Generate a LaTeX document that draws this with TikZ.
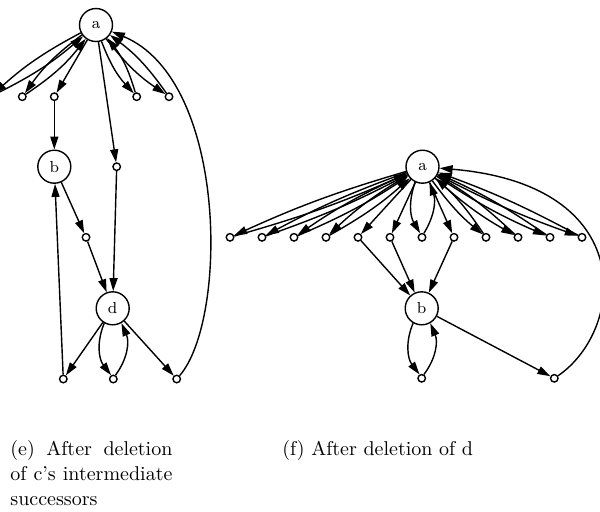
\documentclass[tikz,border=0pt]{standalone}
\usetikzlibrary{arrows.meta,positioning}

\begin{document}
\begin{tikzpicture}[x=0.5pt,y=0.5pt,
    vertex/.style={draw,circle,line width=0.7pt,minimum size=16.5pt,inner sep=0pt,font=\footnotesize},
    dot/.style={draw,circle,line width=0.7pt,minimum size=3.75pt,inner sep=0pt},
    edge/.style={line width=0.7pt,-{Triangle[length=6.5pt,width=4pt]}},
    caption/.style={anchor=base west,inner sep=0pt,font=\fontsize{10}{12.5}\selectfont}]
    \useasboundingbox (0,0) rectangle (600,-511);

    % (e) graph
    \node[vertex] (ea) at (96,-25) {a};
    \node[vertex] (eb) at (54.3,-166.7) {b};
    \node[vertex] (ed) at (112.7,-308.3) {d};

    % upper intermediate nodes
    \node[dot] (eu1) at (-9.7,-96.7) {};
    \node[dot] (eu2) at (22.3,-96.7) {};
    \node[dot] (eu3) at (54.3,-96.7) {};
    \node[dot] (eu4) at (136.7,-96.7) {};
    \node[dot] (eu5) at (169,-96.7) {};
    \node[dot] (em1) at (116.7,-166.7) {};
    \node[dot] (em2) at (86,-237.3) {};

    % lower intermediate nodes
    \node[dot] (el1) at (63.3,-379) {};
    \node[dot] (el2) at (113.3,-379) {};
    \node[dot] (el3) at (176.7,-379) {};

    \foreach \n/\b in {eu1/7,eu2/9,eu4/11,eu5/9} {
        \draw[edge] (ea) to[bend right=\b] (\n);
        \draw[edge] (\n) to[bend right=\b] (ea);
    }
    \draw[edge] (ea) -- (eu3);
    \draw[edge] (eu3) -- (eb);
    \draw[edge] (ea) -- (em1);
    \draw[edge] (em1) -- (ed);
    \draw[edge] (eb) -- (em2);
    \draw[edge] (em2) -- (ed);
    \draw[edge] (ed) -- (el1);
    \draw[edge] (el1) -- (eb);
    \draw[edge] (ed) to[bend right=30] (el2);
    \draw[edge] (el2) to[bend right=30] (ed);
    \draw[edge] (ed) -- (el3);
    \draw[edge] (el3) .. controls (228,-320) and (228,-80) .. (ea);

    % (f) graph
    \node[vertex] (fa) at (422.5,-166.7) {a};
    \node[vertex] (fb) at (421.7,-308.3) {b};
    \foreach \i in {0,...,11}
        \node[dot] (fu\i) at ({230+32*\i},-237.3) {};
    \node[dot] (fl1) at (421.7,-378.3) {};
    \node[dot] (fl2) at (554.3,-378.3) {};

    \foreach \i/\b in {0/4,1/4,2/5,3/6,6/25,8/7,9/6,10/5,11/4} {
        \draw[edge] (fa) to[bend right=\b] (fu\i);
        \draw[edge] (fu\i) to[bend right=\b] (fa);
    }
    \foreach \i in {4,5,7} {
        \draw[edge] (fa) -- (fu\i);
        \draw[edge] (fu\i) -- (fb);
    }
    \draw[edge] (fb) to[bend right=30] (fl1);
    \draw[edge] (fl1) to[bend right=30] (fb);
    \draw[edge] (fb) -- (fl2);
    \draw[edge] (fl2) .. controls (625,-330) and (640,-185) .. (fa);

    % captions
    \node[caption,text width=81pt,align=justify] (capE) at (10,-455)
        {\hyphenpenalty=10000 (e) After deletion of c's intermediate successors};
    \node[caption] (capF) at (282,-455) {(f) After deletion of d};
\end{tikzpicture}
\end{document}
